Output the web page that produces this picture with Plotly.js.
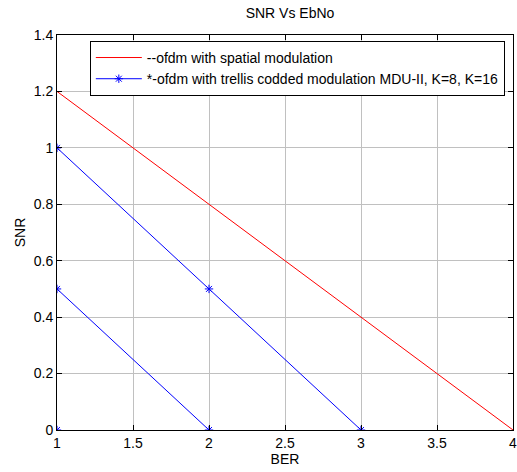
<!DOCTYPE html>
<html>
<head>
<meta charset="utf-8">
<script src="https://cdn.plot.ly/plotly-3.0.1.min.js"></script>
<style>html,body{margin:0;padding:0;background:#fff;}#chart{width:517px;height:472px;}</style>
</head>
<body>
<div id="chart"></div>
<script>
// Data
const berSpatial = [1, 2, 3, 4];
const snrSpatial = [1.2, 0.8, 0.4, 0];
const berTrellisA = [1, 2, 3];
const snrTrellisA = [1, 0.5, 0];
const berTrellisB = [1, 2];
const snrTrellisB = [0.5, 0];
const berTrellisC = [1];
const snrTrellisC = [0];
const xTicks = [1, 1.5, 2, 2.5, 3, 3.5, 4];
const yTicks = [0, 0.2, 0.4, 0.6, 0.8, 1, 1.2, 1.4];
const seriesNames = ['--ofdm with spatial modulation', '*-ofdm with trellis codded modulation MDU-II, K=8, K=16'];

const FONT = 'Liberation Sans, Arial, sans-serif';

const blueStyle = {
  mode: 'lines+markers',
  line: {color: '#0000ff', width: 1},
  marker: {symbol: 'asterisk-open', size: 7, color: '#0000ff', line: {color: '#0000ff', width: 1}}
};

const traces = [
  {x: berSpatial, y: snrSpatial, mode: 'lines', name: seriesNames[0], line: {color: '#ff0000', width: 1}},
  Object.assign({x: berTrellisA, y: snrTrellisA, name: seriesNames[1]}, blueStyle),
  Object.assign({x: berTrellisB, y: snrTrellisB, showlegend: false}, blueStyle),
  Object.assign({x: berTrellisC, y: snrTrellisC, showlegend: false}, blueStyle)
];

const axisCommon = {
  showline: true, linecolor: '#000', linewidth: 1, mirror: 'ticks',
  ticks: 'inside', ticklen: 5, tickcolor: '#000', tickwidth: 1,
  showgrid: true, gridcolor: '#c0c0c0', gridwidth: 1,
  zeroline: false, ticklabeloverflow: 'allow',
  tickfont: {family: FONT, size: 14, color: '#000'}
};

const layout = {
  width: 517, height: 472,
  margin: {l: 57, r: 4, t: 35, b: 42, pad: 0},
  paper_bgcolor: '#fff', plot_bgcolor: '#fff',
  font: {family: FONT, size: 14, color: '#000'},
  title: {text: 'SNR Vs EbNo', x: 0.561, xanchor: 'center', y: 0.972, yanchor: 'middle',
          font: {family: FONT, size: 14, color: '#000'}},
  xaxis: Object.assign({}, axisCommon, {range: [1, 4], tickvals: xTicks, ticktext: xTicks.map(String),
          title: {text: 'BER', standoff: 2, font: {family: FONT, size: 14}}}),
  yaxis: Object.assign({}, axisCommon, {range: [0, 1.4], tickvals: yTicks, ticktext: yTicks.map(String),
          title: {text: 'SNR', standoff: 4, font: {family: FONT, size: 14}}}),
  legend: {x: 0.072, y: 0.985, xanchor: 'left', yanchor: 'top',
           bgcolor: '#fff', bordercolor: '#000', borderwidth: 1,
           font: {family: FONT, size: 14, color: '#000'}, itemwidth: 46, tracegroupgap: 0}
};

Plotly.newPlot('chart', traces, layout, {staticPlot: true, displayModeBar: false});
</script>
</body>
</html>
